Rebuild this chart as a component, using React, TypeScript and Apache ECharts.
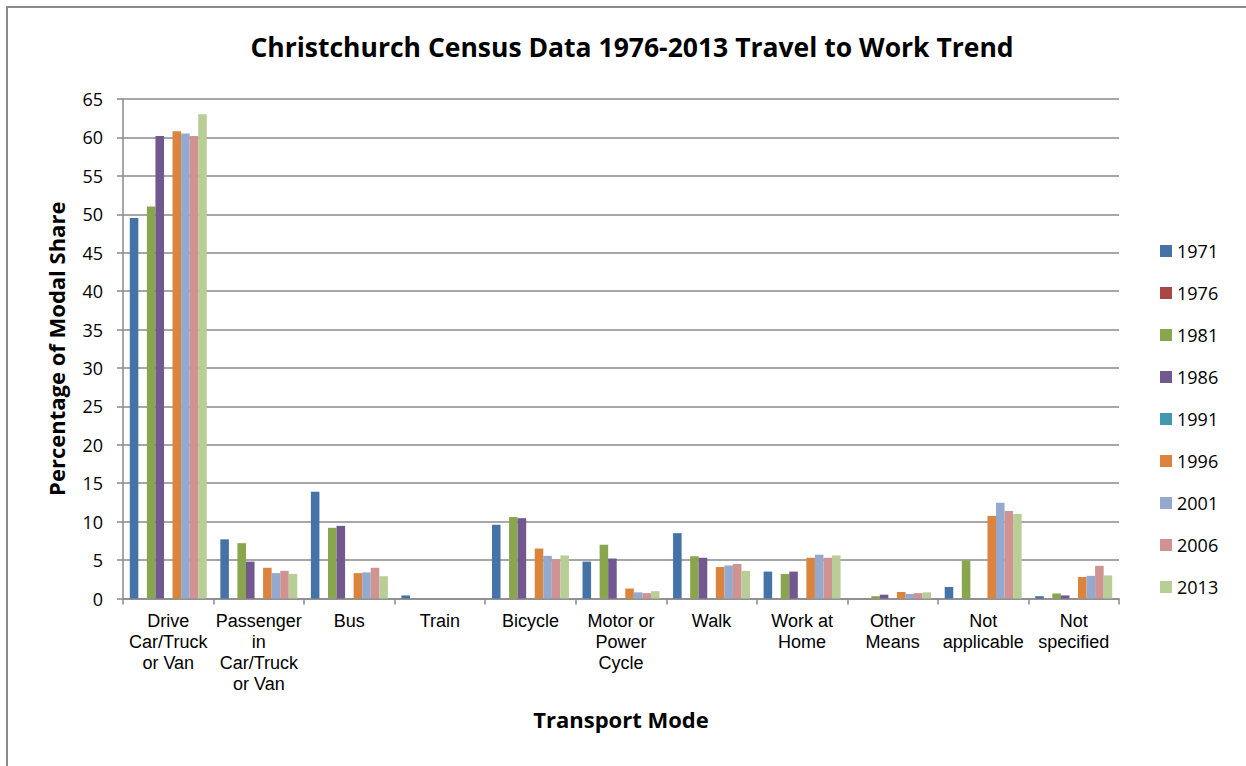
import React, { useEffect, useRef } from "react";
import * as echarts from "echarts";

const categories = [
  "Drive\nCar/Truck\nor Van",
  "Passenger\nin\nCar/Truck\nor Van",
  "Bus",
  "Train",
  "Bicycle",
  "Motor or\nPower\nCycle",
  "Walk",
  "Work at\nHome",
  "Other\nMeans",
  "Not\napplicable",
  "Not\nspecified",
];

const years = ["1971", "1976", "1981", "1986", "1991", "1996", "2001", "2006", "2013"];
const colors = ["#4572A7", "#AA4643", "#89A54E", "#71588F", "#4198AF", "#DB843D", "#93A9CF", "#D19392", "#B9CD96"];

const v1971 = [49.5, 7.7, 13.9, 0.4, 9.6, 4.8, 8.5, 3.5, 0, 1.5, 0.3];
const v1976 = [null, null, null, null, null, null, null, null, null, null, null];
const v1981 = [51.0, 7.2, 9.2, 0, 10.6, 7.0, 5.5, 3.2, 0.3, 4.95, 0.65];
const v1986 = [60.2, 4.8, 9.45, 0, 10.45, 5.2, 5.3, 3.5, 0.5, 0, 0.4];
const v1991 = [null, null, null, null, null, null, null, null, null, null, null];
const v1996 = [60.8, 4.0, 3.3, 0, 6.5, 1.3, 4.1, 5.3, 0.85, 10.75, 2.8];
const v2001 = [60.5, 3.3, 3.4, 0, 5.55, 0.8, 4.3, 5.7, 0.6, 12.45, 2.95];
const v2006 = [60.2, 3.6, 4.0, 0, 5.1, 0.7, 4.5, 5.3, 0.7, 11.4, 4.25];
const v2013 = [63.0, 3.2, 2.9, 0, 5.6, 0.95, 3.6, 5.6, 0.8, 11.0, 3.0];

const seriesValues = [v1971, v1976, v1981, v1986, v1991, v1996, v2001, v2006, v2013];

const yTicks = { min: 0, max: 65, interval: 5 };

export default function App() {
  const ref = useRef<HTMLDivElement>(null);
  useEffect(() => {
    if (!ref.current) return;
    const chart = echarts.init(ref.current, null, { renderer: "svg" });
    const gridColor = "#8a8a8a";
    chart.setOption({
      animation: false,
      backgroundColor: "#ffffff",
      title: {
        text: "Christchurch Census Data 1976-2013 Travel to Work Trend",
        left: 627,
        top: 28,
        textAlign: "center",
        textStyle: { fontFamily: "Open Sans", fontWeight: "bold", fontSize: 26.5, color: "#000" },
      },
      graphic: [
        {
          type: "rect",
          shape: { x: 7, y: 7, width: 1300, height: 800 },
          style: { fill: "none", stroke: gridColor, lineWidth: 2 },
          silent: true,
        },
      ],
      legend: {
        orient: "vertical",
        left: 1155,
        top: 236,
        itemWidth: 12,
        itemHeight: 12,
        itemGap: 22,
        icon: "rect",
        textStyle: { fontFamily: "Open Sans", fontSize: 18, color: "#000", lineHeight: 20 },
        data: years,
      },
      grid: { left: 123, top: 99, right: 127, bottom: 167.5, containLabel: false },
      xAxis: {
        type: "category",
        data: categories,
        name: "Transport Mode",
        nameLocation: "middle",
        nameGap: 109,
        nameTextStyle: { fontFamily: "Open Sans", fontWeight: "bold", fontSize: 22, color: "#000" },
        axisLine: { lineStyle: { color: gridColor, width: 1.5 } },
        axisTick: { show: true, length: 6, lineStyle: { color: gridColor, width: 1.5 } },
        axisLabel: {
          interval: 0,
          margin: 12,
          fontFamily: "Liberation Sans",
          fontSize: 18,
          lineHeight: 21,
          color: "#000",
          verticalAlign: "top",
        },
      },
      yAxis: {
        type: "value",
        min: yTicks.min,
        max: yTicks.max,
        interval: yTicks.interval,
        name: "Percentage of Modal Share",
        nameLocation: "middle",
        nameGap: 56,
        nameTextStyle: { fontFamily: "Open Sans", fontWeight: "bold", fontSize: 22, color: "#000" },
        axisLine: { show: true, lineStyle: { color: gridColor, width: 1.5 } },
        axisTick: { show: true, length: 6, lineStyle: { color: gridColor, width: 1.5 } },
        axisLabel: { margin: 20, fontFamily: "Open Sans", fontSize: 18, color: "#000" },
        splitLine: { show: true, lineStyle: { color: gridColor, width: 1.5 } },
      },
      series: years.map((y, i) => ({
        name: y,
        type: "bar",
        data: seriesValues[i],
        itemStyle: { color: colors[i] },
        barGap: "0%",
        barCategoryGap: "15%",
      })),
    });
    return () => chart.dispose();
  }, []);
  return (
    <div
      ref={ref}
      style={{ position: "absolute", left: 0, top: 0, width: 1246, height: 766 }}
    />
  );
}
